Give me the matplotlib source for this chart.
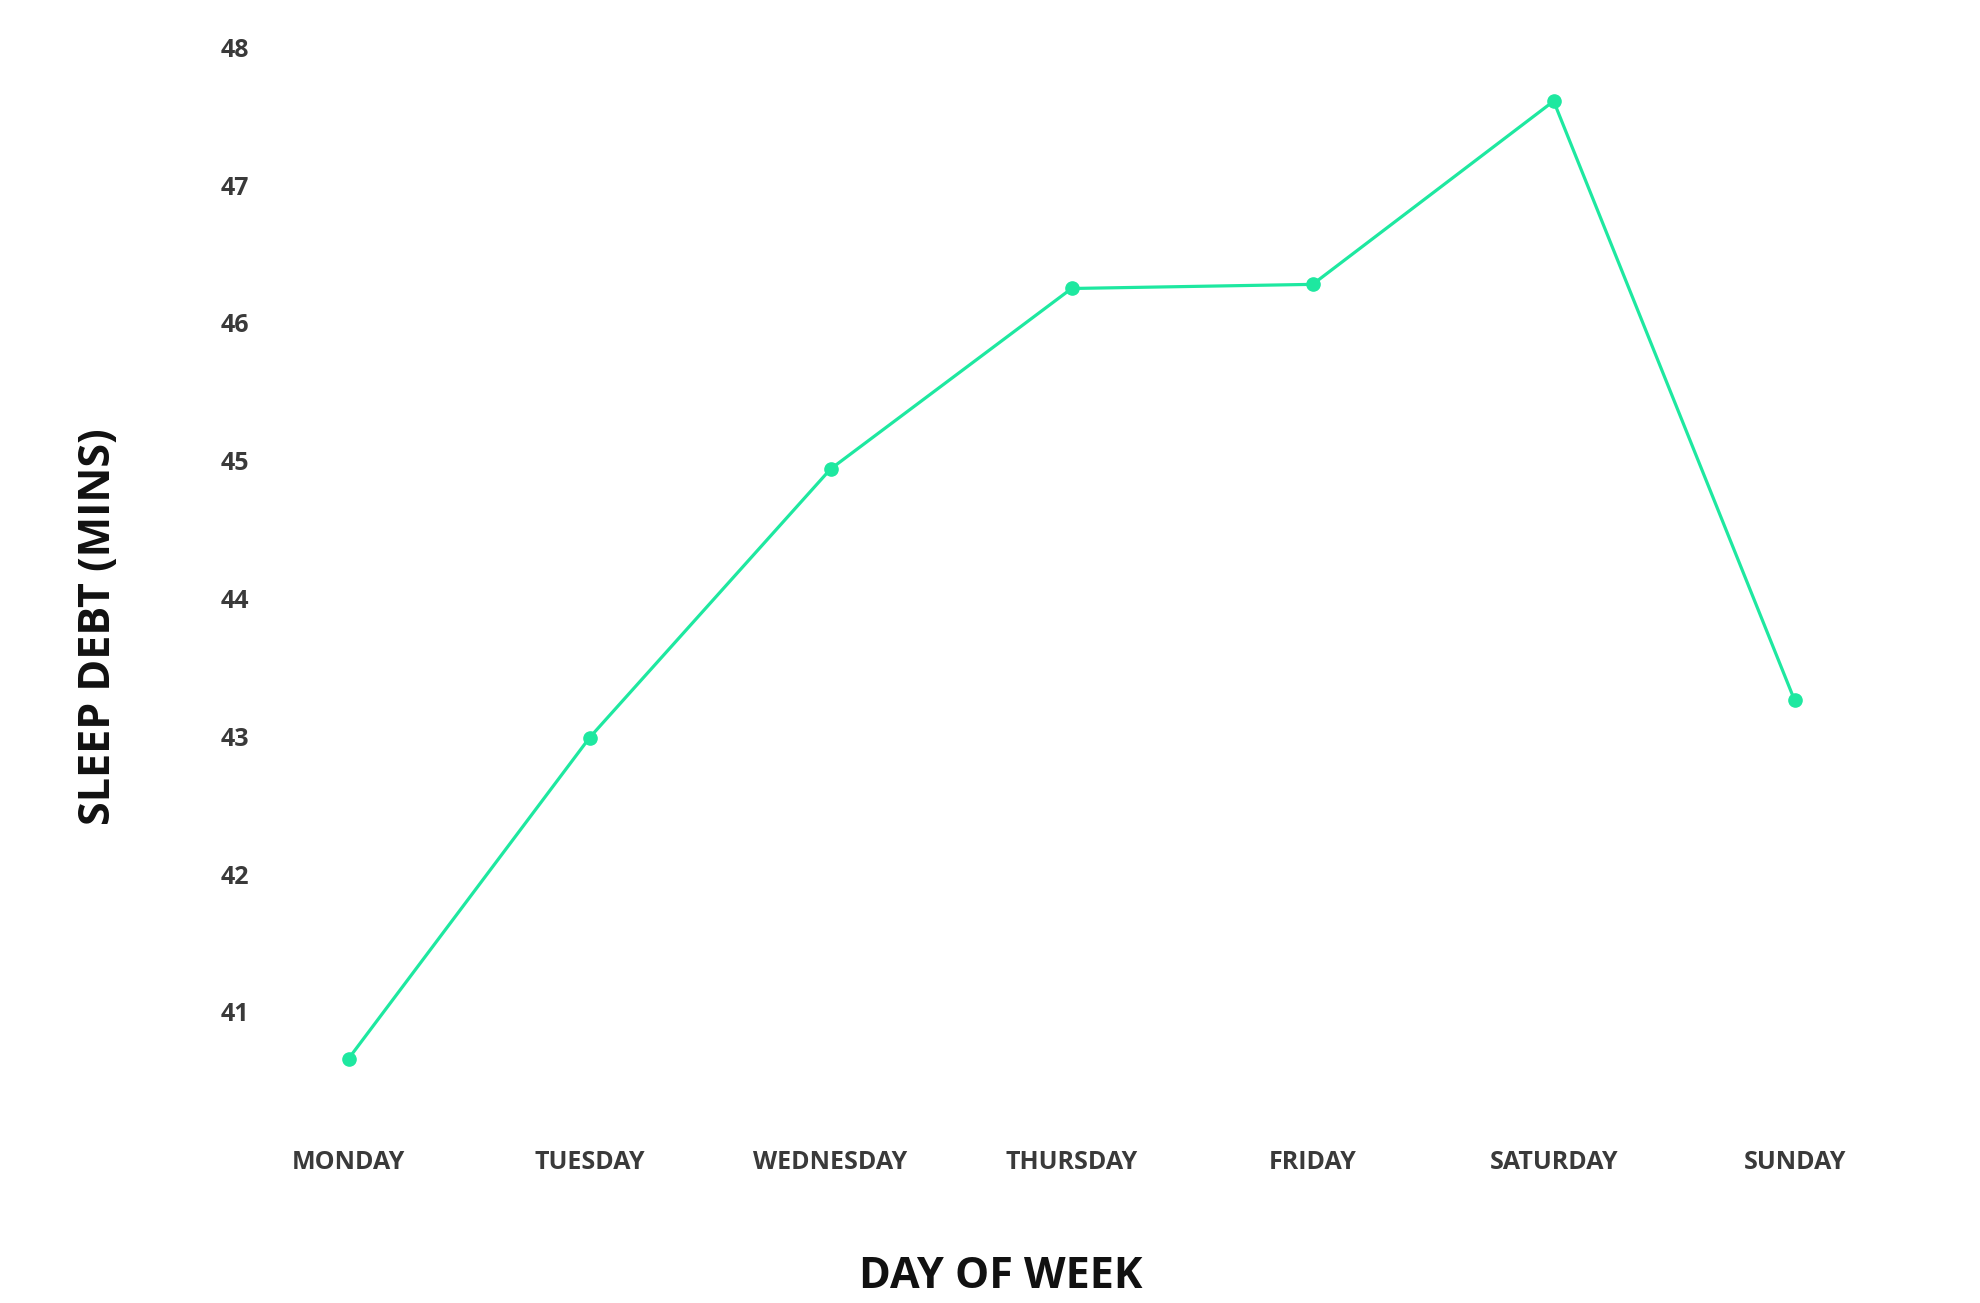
import matplotlib
matplotlib.use("Agg")
import matplotlib.pyplot as plt

days = ["MONDAY", "TUESDAY", "WEDNESDAY", "THURSDAY", "FRIDAY", "SATURDAY", "SUNDAY"]
sleep_debt = [40.66, 42.99, 44.94, 46.25, 46.28, 47.61, 43.26]
y_ticks = [41, 42, 43, 44, 45, 46, 47, 48]

plt.rcParams['font.family'] = ['Open Sans', 'DejaVu Sans']

fig = plt.figure(figsize=(19.81, 13.03), dpi=100)
ax = fig.add_axes([0.1273, 0.1389, 0.8273, 0.8353])

x = list(range(len(days)))
ax.plot(x, sleep_debt, color="#1ee8a0", linewidth=2.3, marker="o",
        markersize=9.5, markerfacecolor="#1ee8a0", markeredgecolor="#1ee8a0")

ax.set_xlim(-0.4, 6.4)
ax.set_ylim(40.2, 48.1)
ax.set_xticks(x)
ax.set_xticklabels(days)
ax.set_yticks(y_ticks)
ax.set_yticklabels([str(v) for v in y_ticks])

for s in ax.spines.values():
    s.set_visible(False)
ax.tick_params(axis="x", length=0, pad=20, labelsize=18, labelcolor="#3a3a3a")
ax.tick_params(axis="y", length=0, pad=2, labelsize=18, labelcolor="#3a3a3a")
for lbl in ax.get_xticklabels() + ax.get_yticklabels():
    lbl.set_fontweight("bold")

fig.text(0.0497, 0.519, "SLEEP DEBT (MINS)", rotation=90, ha="center", va="center",
         fontsize=31, fontweight="bold", color="#111111")
fig.text(0.505, 0.0206, "DAY OF WEEK", ha="center", va="center",
         fontsize=31, fontweight="bold", color="#111111")

fig.savefig("out.png", dpi=100, facecolor="white")
